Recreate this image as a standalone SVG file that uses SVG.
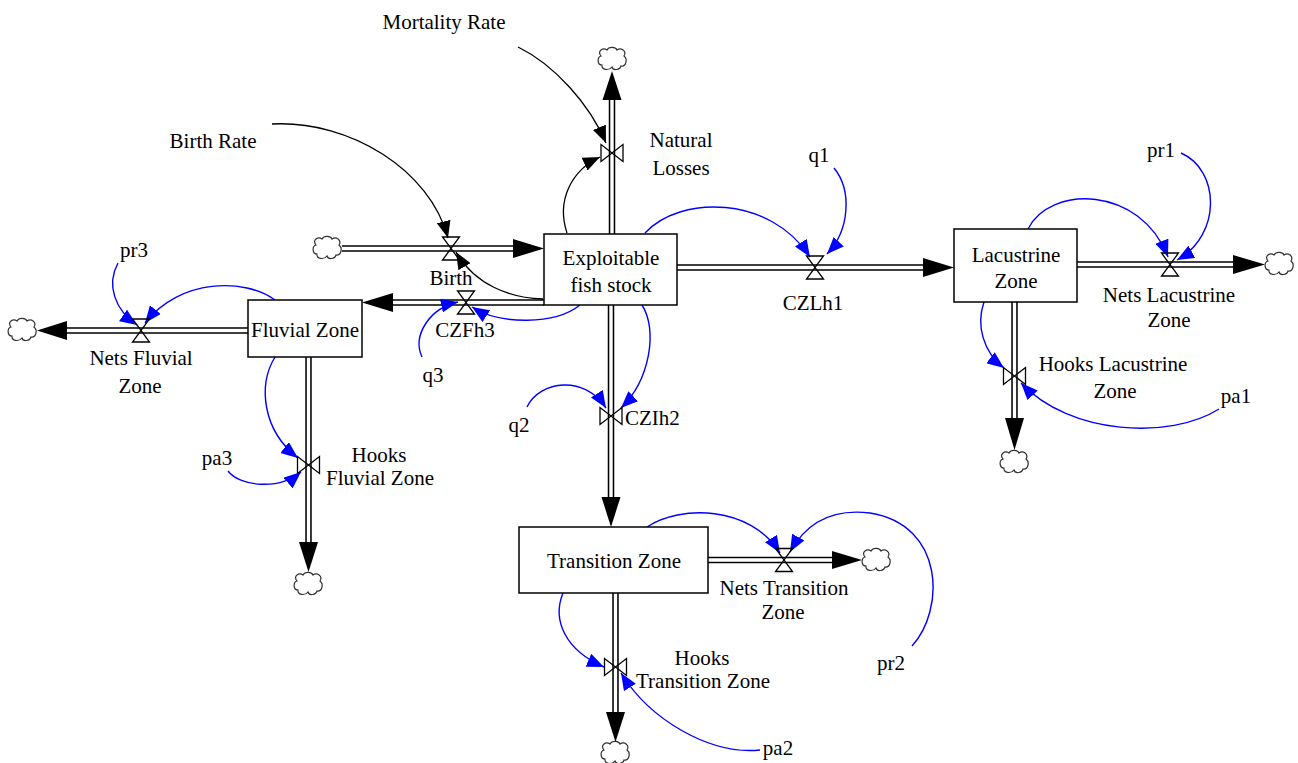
<svg xmlns="http://www.w3.org/2000/svg" xmlns:xlink="http://www.w3.org/1999/xlink" width="1298" height="763" viewBox="0 0 1298 763">
<style>
text{font-family:"Liberation Serif","Times New Roman",serif;font-size:21px;fill:#000;text-anchor:middle}
.box{fill:#fff;stroke:#000;stroke-width:1.5}
.po{stroke:#000;stroke-width:6.5;fill:none}
.pi{stroke:#fff;stroke-width:3.4;fill:none}
.pa{fill:#000;stroke:none}
.valve{fill:none;stroke:#000;stroke-width:1.3}
.cloud{fill:#fff;stroke:#333;stroke-width:1.2}
.cb{fill:none;stroke:#0000ff;stroke-width:1.4;marker-end:url(#mb)}
.ck{fill:none;stroke:#000;stroke-width:1.3;marker-end:url(#mk)}
</style>
<defs>
<marker id="mb" markerUnits="userSpaceOnUse" markerWidth="18" markerHeight="14" refX="17" refY="7" orient="auto"><path d="M0,0 L17,7 L0,14 Z" fill="#0000ff"/></marker>
<marker id="mk" markerUnits="userSpaceOnUse" markerWidth="18" markerHeight="14" refX="17" refY="7" orient="auto"><path d="M0,0 L17,7 L0,14 Z" fill="#000"/></marker>
<path id="cl" class="cloud" d="M-11,-3 C-15,-8 -9,-12 -5,-9 C-3,-13 4,-12 5,-9 C9,-12 15,-8 12,-3 C16,0 14,8 9,7 C8,11 1,12 0,8 C-3,12 -11,11 -10,6 C-15,6 -15,-2 -11,-3 Z"/>
<path id="vh" class="valve" d="M-8.5,-11.5 L8.5,-11.5 L-8.5,11.5 L8.5,11.5 Z"/>
<path id="vv" class="valve" d="M-11,-8.5 L-11,8.5 L11,-8.5 L11,8.5 Z"/>
</defs>
<rect width="1298" height="763" fill="#fff"/>

<g id="pipes">
<path class="po" d="M342,248.5 H514 M612,234 V100 M544,302.5 H393 M677,267.5 H924 M611,305 V498 M1077,264.5 H1234 M1014.5,302 V419 M248,330.5 H67 M308.5,357 V543 M708,560 H833 M615.5,593 V713"/>
<path class="pi" d="M342,248.5 H514 M612,234 V100 M544,302.5 H393 M677,267.5 H924 M611,305 V498 M1077,264.5 H1234 M1014.5,302 V419 M248,330.5 H67 M308.5,357 V543 M708,560 H833 M615.5,593 V713"/>
<polygon class="pa" points="513,239 544,248.5 513,258"/>
<polygon class="pa" points="602.5,100 612,71 621.5,100"/>
<polygon class="pa" points="393,293 362,302.5 393,312"/>
<polygon class="pa" points="923,258 954,267.5 923,277"/>
<polygon class="pa" points="601.5,497 611,527 620.5,497"/>
<polygon class="pa" points="1233,255 1265,264.5 1233,274"/>
<polygon class="pa" points="1005,418 1014.5,450 1024,418"/>
<polygon class="pa" points="67,321 37,330.5 67,340"/>
<polygon class="pa" points="299,542 308.5,572 318,542"/>
<polygon class="pa" points="832,551 862,560 832,569"/>
<polygon class="pa" points="606,712 615.5,742 625,712"/>
</g>

<g id="clouds">
<use xlink:href="#cl" href="#cl" transform="translate(327,248)"/>
<use xlink:href="#cl" href="#cl" transform="translate(612,59)"/>
<use xlink:href="#cl" href="#cl" transform="translate(1279,264)"/>
<use xlink:href="#cl" href="#cl" transform="translate(1014,462)"/>
<use xlink:href="#cl" href="#cl" transform="translate(22,330)"/>
<use xlink:href="#cl" href="#cl" transform="translate(308,584)"/>
<use xlink:href="#cl" href="#cl" transform="translate(876,560)"/>
<use xlink:href="#cl" href="#cl" transform="translate(615,753)"/>
</g>

<g id="connectors">
<path class="ck" d="M272,124 C350,120 430,170 448,238"/>
<path class="ck" d="M518,47 C555,65 590,105 606,143"/>
<path class="ck" d="M543,299 C510,298 475,285 456,252"/>
<path class="ck" d="M567,233 C556,200 572,170 600,157"/>
<path class="cb" d="M645,233 C680,195 770,195 810,257"/>
<path class="cb" d="M834,168 C852,190 850,230 827,254"/>
<path class="cb" d="M1028,229 C1050,185 1140,185 1168,257"/>
<path class="cb" d="M1181,153 C1220,170 1222,235 1177,260"/>
<path class="cb" d="M984,302 C976,325 983,352 1004,368"/>
<path class="cb" d="M1219,409 C1170,440 1070,435 1021,383"/>
<path class="cb" d="M642,305 C658,330 650,380 621,408"/>
<path class="cb" d="M527,407 C540,380 585,375 606,408"/>
<path class="cb" d="M580,305 C555,325 500,325 472,307"/>
<path class="cb" d="M422,357 C412,335 430,308 458,302"/>
<path class="cb" d="M275,300 C245,278 180,278 145,323"/>
<path class="cb" d="M118,263 C106,285 115,310 137,325"/>
<path class="cb" d="M275,357 C258,385 262,430 298,458"/>
<path class="cb" d="M228,471 C240,487 280,490 301,472"/>
<path class="cb" d="M647,527 C680,505 750,505 780,553"/>
<path class="cb" d="M912,646 C945,610 945,525 870,513 C830,508 805,525 790,552"/>
<path class="cb" d="M563,593 C552,620 565,650 604,667"/>
<path class="cb" d="M760,750 C710,755 650,720 621,673"/>
</g>

<g id="stock-exploitable">
<rect class="box" x="544" y="234" width="133" height="71"/>
<text x="611" y="265">Exploitable</text>
<text x="611" y="292">fish stock</text>
</g>
<g id="stock-fluvial">
<rect class="box" x="248" y="300" width="114" height="57"/>
<text x="305" y="337">Fluvial Zone</text>
</g>
<g id="stock-lacustrine">
<rect class="box" x="954" y="229" width="123" height="73"/>
<text x="1016" y="262">Lacustrine</text>
<text x="1016" y="288">Zone</text>
</g>
<g id="stock-transition">
<rect class="box" x="519" y="527" width="189" height="66"/>
<text x="614" y="568">Transition Zone</text>
</g>

<g id="flow-birth">
<use xlink:href="#vh" href="#vh" transform="translate(451,248.5)"/>
<text x="451" y="285">Birth</text>
</g>
<g id="flow-natural-losses">
<use xlink:href="#vv" href="#vv" transform="translate(612,153)"/>
<text x="681" y="147">Natural</text>
<text x="681" y="175">Losses</text>
</g>
<g id="flow-czfh3">
<use xlink:href="#vh" href="#vh" transform="translate(466,302.5)"/>
<text x="465" y="337">CZFh3</text>
</g>
<g id="flow-czlh1">
<use xlink:href="#vh" href="#vh" transform="translate(815,267.5)"/>
<text x="813" y="310">CZLh1</text>
</g>
<g id="flow-czih2">
<use xlink:href="#vv" href="#vv" transform="translate(611,416)"/>
<text x="625" y="425" style="text-anchor:start">CZIh2</text>
</g>
<g id="flow-nets-lacustrine">
<use xlink:href="#vh" href="#vh" transform="translate(1170,264.5)"/>
<text x="1169" y="302">Nets Lacustrine</text>
<text x="1169" y="327">Zone</text>
</g>
<g id="flow-hooks-lacustrine">
<use xlink:href="#vv" href="#vv" transform="translate(1014.5,376)"/>
<text x="1113" y="371">Hooks Lacustrine</text>
<text x="1115" y="398">Zone</text>
</g>
<g id="flow-nets-fluvial">
<use xlink:href="#vh" href="#vh" transform="translate(141,330.5)"/>
<text x="141" y="365">Nets Fluvial</text>
<text x="140" y="393">Zone</text>
</g>
<g id="flow-hooks-fluvial">
<use xlink:href="#vv" href="#vv" transform="translate(308.5,465)"/>
<text x="379" y="462">Hooks</text>
<text x="380" y="485">Fluvial Zone</text>
</g>
<g id="flow-nets-transition">
<use xlink:href="#vh" href="#vh" transform="translate(784,560)"/>
<text x="784" y="595">Nets Transition</text>
<text x="783" y="619">Zone</text>
</g>
<g id="flow-hooks-transition">
<use xlink:href="#vv" href="#vv" transform="translate(615.5,667)"/>
<text x="702" y="665">Hooks</text>
<text x="703" y="688">Transition Zone</text>
</g>

<g id="aux-mortality-rate"><text x="444" y="29">Mortality Rate</text></g>
<g id="aux-birth-rate"><text x="213" y="148">Birth Rate</text></g>
<g id="aux-q1"><text x="819" y="162">q1</text></g>
<g id="aux-q2"><text x="519" y="432">q2</text></g>
<g id="aux-q3"><text x="433" y="382">q3</text></g>
<g id="aux-pr1"><text x="1161" y="157">pr1</text></g>
<g id="aux-pr2"><text x="891" y="670">pr2</text></g>
<g id="aux-pr3"><text x="134" y="257">pr3</text></g>
<g id="aux-pa1"><text x="1236" y="403">pa1</text></g>
<g id="aux-pa2"><text x="778" y="755">pa2</text></g>
<g id="aux-pa3"><text x="217" y="465">pa3</text></g>
</svg>
